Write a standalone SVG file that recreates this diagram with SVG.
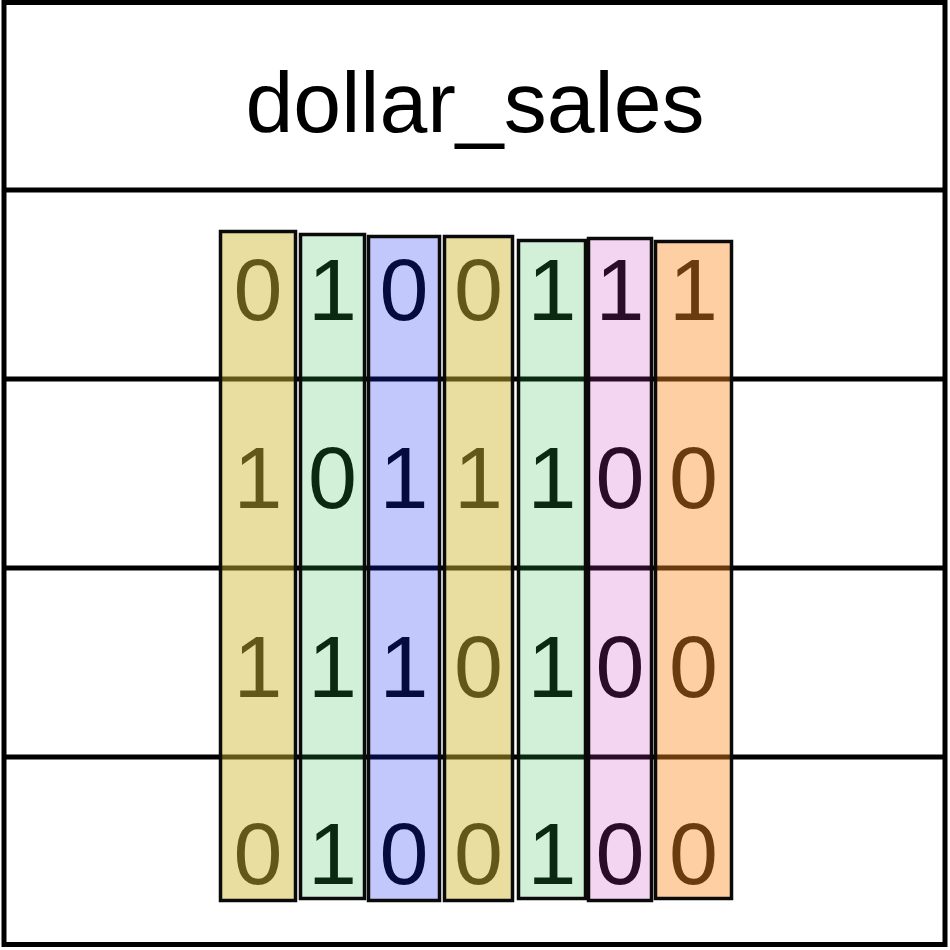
<svg xmlns="http://www.w3.org/2000/svg" width="950" height="950" viewBox="0 0 950 950">
  <style>
    .line { stroke: #000; stroke-width: 5; fill: none; }
    .title { font-family: "Liberation Sans", Arial, sans-serif; font-size: 86px; fill: #000; text-anchor: middle; }
    .bit { font-family: "Liberation Sans", Arial, sans-serif; font-size: 88px; fill: #000; text-anchor: middle; }
    .col { stroke: #0a0a0a; stroke-width: 3.5; }
    .c1 { fill: rgb(208,182,51); fill-opacity: 0.47; }
    .c2 { fill: rgb(49,182,71); fill-opacity: 0.22; }
    .c3 { fill: rgb(19,42,243); fill-opacity: 0.26; }
    .c6 { fill: rgb(200,50,190); fill-opacity: 0.21; }
    .c7 { fill: rgb(255,140,39); fill-opacity: 0.42; }
  </style>
  <rect x="0" y="0" width="950" height="950" fill="#fff"/>
  <g id="table">
    <rect class="line" x="4" y="2.5" width="941" height="942"/>
    <line class="line" x1="4" y1="190" x2="945" y2="190"/>
    <line class="line" x1="4" y1="379" x2="945" y2="379"/>
    <line class="line" x1="4" y1="568" x2="945" y2="568"/>
    <line class="line" x1="4" y1="757" x2="945" y2="757"/>
  </g>
  <g id="header">
    <text class="title" x="475" y="132">dollar_sales</text>
  </g>
  <g id="col1">
    <text class="bit" x="258" y="320">0</text>
    <text class="bit" x="258" y="508">1</text>
    <text class="bit" x="258" y="697">1</text>
    <text class="bit" x="258" y="884">0</text>
    <rect class="col c1" x="220.5" y="231.5" width="75" height="669"/>
  </g>
  <g id="col2">
    <text class="bit" x="332.5" y="320">1</text>
    <text class="bit" x="332.5" y="508">0</text>
    <text class="bit" x="332.5" y="697">1</text>
    <text class="bit" x="332.5" y="884">1</text>
    <rect class="col c2" x="300.5" y="234.5" width="64" height="664"/>
  </g>
  <g id="col3">
    <text class="bit" x="404" y="320">0</text>
    <text class="bit" x="404" y="508">1</text>
    <text class="bit" x="404" y="697">1</text>
    <text class="bit" x="404" y="884">0</text>
    <rect class="col c3" x="368.5" y="236.5" width="71" height="664"/>
  </g>
  <g id="col4">
    <text class="bit" x="478.5" y="320">0</text>
    <text class="bit" x="478.5" y="508">1</text>
    <text class="bit" x="478.5" y="697">0</text>
    <text class="bit" x="478.5" y="884">0</text>
    <rect class="col c1" x="444.5" y="236.5" width="68" height="664"/>
  </g>
  <g id="col5">
    <text class="bit" x="552" y="320">1</text>
    <text class="bit" x="552" y="508">1</text>
    <text class="bit" x="552" y="697">1</text>
    <text class="bit" x="552" y="884">1</text>
    <rect class="col c2" x="518.5" y="240.5" width="67" height="658"/>
  </g>
  <g id="col6">
    <text class="bit" x="620" y="320">1</text>
    <text class="bit" x="620" y="508">0</text>
    <text class="bit" x="620" y="697">0</text>
    <text class="bit" x="620" y="884">0</text>
    <rect class="col c6" x="588.5" y="238.5" width="63" height="662"/>
  </g>
  <g id="col7">
    <text class="bit" x="693.5" y="320">1</text>
    <text class="bit" x="693.5" y="508">0</text>
    <text class="bit" x="693.5" y="697">0</text>
    <text class="bit" x="693.5" y="884">0</text>
    <rect class="col c7" x="655.5" y="241.5" width="76" height="657"/>
  </g>
</svg>
